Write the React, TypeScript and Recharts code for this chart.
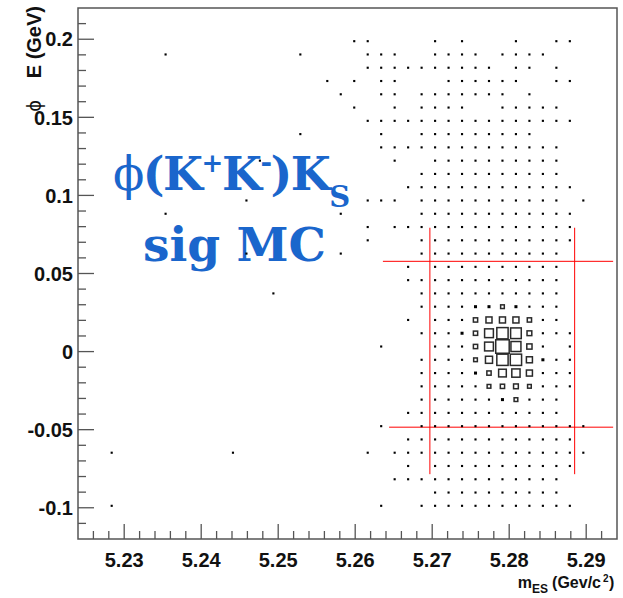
import React from "react";
import { ScatterChart, Scatter, XAxis, YAxis, ReferenceArea, ReferenceLine } from "recharts";

// plotted window and histogram binning (m_ES in GeV/c^2, ΔE in GeV)
const mesMin = 5.224;
const mesMax = 5.294;
const mesBin = 0.00175;
const deMin = -0.12;
const deMax = 0.22;
const deBin = 0.0085;

const xMajor = [5.23, 5.24, 5.25, 5.26, 5.27, 5.28, 5.29];
const xLabels = ["5.23", "5.24", "5.25", "5.26", "5.27", "5.28", "5.29"];
const yMajor = [-0.1, -0.05, 0, 0.05, 0.1, 0.15, 0.2];
const yLabels = ["-0.1", "-0.05", "0", "0.05", "0.1", "0.15", "0.2"];

// filled cells: ΔE row (counted down from the top edge) and the m_ES bins hit in it
const hitRows = [2, 3, 4, 5, 6, 7, 8, 9, 10, 11, 12, 13, 14, 15, 16, 17, 18, 19,
  20, 21, 22, 23, 24, 25, 26, 27, 28, 29, 30, 31, 32, 33, 34, 35, 36, 37];
const hitBins: number[][] = [
  [20, 21, 26, 28, 32, 35, 36],
  [6, 16, 21, 22, 23, 26, 27, 28, 29, 31, 32, 33, 34],
  [21, 22, 23, 24, 25, 26, 27, 28, 29, 30, 32, 33, 35],
  [18, 20, 22, 23, 27, 28, 29, 30, 31, 32, 35, 36],
  [19, 22, 23, 25, 26, 27, 28, 29, 30, 31, 33],
  [20, 23, 25, 26, 27, 28, 31, 32, 33, 34, 35],
  [21, 22, 23, 24, 25, 26, 27, 28, 29, 30, 31, 32, 33, 34, 35, 36],
  [16, 22, 25, 26, 27, 28, 29, 30, 31, 32, 33],
  [22, 23, 24, 25, 26, 27, 28, 29, 30, 31, 32, 33, 34, 35],
  [13, 23, 26, 27, 28, 29, 30, 31, 32, 33, 34, 35],
  [25, 26, 27, 28, 29, 30, 31, 32, 33, 34, 35],
  [24, 25, 26, 27, 28, 29, 30, 31, 32, 33, 34, 35, 36],
  [12, 21, 22, 23, 25, 26, 27, 28, 29, 30, 31, 32, 33, 34, 35, 37],
  [6, 19, 25, 26, 27, 28, 29, 30, 31, 32, 33, 34, 35, 36],
  [21, 23, 24, 25, 26, 27, 28, 29, 30, 31, 32, 33, 34, 35, 36],
  [21, 25, 26, 27, 28, 29, 30, 31, 32, 33, 34, 35, 36],
  [12, 19, 25, 26, 27, 28, 29, 30, 31, 32, 33, 34, 35],
  [24, 26, 27, 28, 29, 30, 31, 32, 33, 34, 35],
  [24, 25, 26, 27, 28, 29, 30, 31, 32, 33, 34, 35],
  [14, 25, 26, 27, 28, 29, 30, 31, 32, 33, 34, 35],
  [25, 26, 27, 28, 29, 30, 31, 32, 33, 34, 35],
  [24, 26, 27, 28, 29, 30, 31, 32, 33, 34, 35],
  [25, 26, 27, 28, 29, 30, 31, 32, 33, 34, 35, 36],
  [22, 26, 27, 28, 29, 30, 31, 32, 33, 34, 36],
  [25, 26, 27, 28, 29, 30, 31, 32, 33, 34, 35, 36],
  [25, 26, 27, 28, 29, 30, 31, 32, 33, 34, 35, 36],
  [25, 26, 27, 28, 29, 30, 31, 32, 33, 34, 35, 36],
  [25, 26, 27, 28, 29, 30, 31, 32, 33, 34, 35],
  [24, 25, 26, 27, 28, 29, 30, 31, 32, 33, 34, 35],
  [22, 25, 26, 27, 28, 29, 30, 31, 32, 33, 34, 35, 36, 37],
  [24, 25, 26, 27, 28, 29, 30, 31, 32, 33, 34, 35, 36],
  [2, 11, 21, 23, 24, 25, 26, 27, 28, 29, 30, 31, 32, 33, 34, 35, 36, 37],
  [24, 26, 27, 28, 29, 30, 31, 32, 33, 34, 35, 36],
  [23, 24, 25, 26, 27, 28, 29, 30, 31, 32, 33, 34, 35],
  [26, 27, 28, 29, 30, 31, 32, 33, 34, 35],
  [2, 22, 25, 26, 27, 28, 29, 30, 31, 32, 33, 34, 35, 36],
];

// cells of the signal peak with more than one entry: [row, bin, entries]
const peakCells: [number, number, number][] = [
  [22, 29, 2], [22, 30, 2], [22, 31, 3], [22, 32, 2],
  [23, 29, 4], [23, 30, 8], [23, 31, 8], [23, 32, 8], [23, 33, 4],
  [24, 28, 2], [24, 29, 4], [24, 30, 17], [24, 31, 28], [24, 32, 25], [24, 33, 5],
  [25, 29, 4], [25, 30, 17], [25, 31, 40], [25, 32, 22], [25, 33, 6],
  [26, 29, 3], [26, 30, 11], [26, 31, 28], [26, 32, 28], [26, 33, 8], [26, 34, 2],
  [27, 29, 2], [27, 30, 4], [27, 31, 13], [27, 32, 15], [27, 33, 8],
  [28, 30, 3], [28, 31, 4], [28, 32, 5], [28, 33, 3],
  [29, 31, 2], [29, 32, 3],
];

// signal box cuts drawn in red: [m_ES from, ΔE from, m_ES to, ΔE to]
const cutLines = [
  [5.2636, 0.0578, 5.2935, 0.0578],
  [5.2644, -0.0484, 5.2935, -0.0484],
  [5.2697, 0.0793, 5.2697, -0.0785],
  [5.2885, 0.0793, 5.2885, -0.0785],
];

const W = 623;
const H = 598;
const margin = { top: 8, right: 6, left: 8, bottom: 19 };
const yAxisW = 70;
const xAxisH = 40;
const plotW = W - margin.left - margin.right - yAxisW;
const binPx = (plotW * mesBin) / (mesMax - mesMin);
const axisColor = "#555";
const blue = "#1a66cc";
const labelFont = "'Liberation Sans', Arial, Helvetica, sans-serif";

type Cell = { x: number; y: number; n: number };

const cells: Cell[] = [];
hitRows.forEach((row, i) => {
  hitBins[i].forEach((bin) => {
    const peak = peakCells.find((c) => c[0] === row && c[1] === bin);
    cells.push({
      x: mesMin + (bin + 0.5) * mesBin,
      y: deMax - (row + 0.5) * deBin,
      n: peak ? peak[2] : 1,
    });
  });
});
const nMax = Math.max(...cells.map((c) => c.n));

const xTicks: number[] = [];
for (let i = 1; i < 35; i++) xTicks.push(Math.round((mesMin + i * 0.002) * 1000) / 1000);
const yTicks: number[] = [];
for (let i = -11; i <= 21; i++) yTicks.push(Math.round(i) / 100);

function BinBox(props: any) {
  const { cx, cy, payload } = props;
  if (cx == null || cy == null) return null;
  const s = Math.max(2, binPx * Math.sqrt(payload.n / nMax));
  if (s < 3.6) {
    return <rect x={cx - s / 2} y={cy - s / 2} width={s} height={s} fill="#000" />;
  }
  return (
    <rect x={cx - s / 2} y={cy - s / 2} width={s} height={s} fill="none" stroke="#2a2a2a" strokeWidth={1.5} />
  );
}

const renderXTick = (p: any) => {
  const v = p.payload.value;
  const i = xMajor.findIndex((m) => Math.abs(m - v) < 1e-9);
  return (
    <g>
      <line x1={p.x} x2={p.x} y1={p.y} y2={p.y - (i >= 0 ? 15 : 8)} stroke={axisColor} strokeWidth={1.3} />
      {i >= 0 && (
        <text x={p.x} y={p.y + 28} textAnchor="middle" fontFamily={labelFont} fontWeight="bold" fontSize={20} fill="#111">
          {xLabels[i]}
        </text>
      )}
    </g>
  );
};

const renderYTick = (p: any) => {
  const v = p.payload.value;
  const i = yMajor.findIndex((m) => Math.abs(m - v) < 1e-9);
  return (
    <g>
      <line x1={p.x} x2={p.x + (i >= 0 ? 16 : 8)} y1={p.y} y2={p.y} stroke={axisColor} strokeWidth={1.3} />
      {i >= 0 && (
        <text x={p.x - 5} y={p.y} dy="0.36em" textAnchor="end" fontFamily={labelFont} fontWeight="bold" fontSize={20} fill="#111">
          {yLabels[i]}
        </text>
      )}
    </g>
  );
};

export default function App() {
  return (
    <div style={{ position: "absolute", left: 0, top: 0, width: W, height: H, background: "#fff" }}>
      <svg width={W} height={H} style={{ position: "absolute", left: 0, top: 0 }}>
        <text x={113} y={190} fill={blue} fontFamily="'DejaVu Serif', serif" fontWeight="bold" fontSize={46} letterSpacing={-1.5}>
          <tspan fontWeight="normal">ϕ</tspan>
          <tspan>(K</tspan>
          <tspan fontSize={26} dy={-18}>+</tspan>
          <tspan dy={18}>K</tspan>
          <tspan fontSize={28} dy={-18}>-</tspan>
          <tspan dy={18}>)K</tspan>
          <tspan fontSize={29} dy={17}>S</tspan>
        </text>
        <text x={143} y={261} fill={blue} fontFamily="'DejaVu Serif', serif" fontWeight="bold" fontSize={47}>
          sig MC
        </text>
        <text x={601} y={588} textAnchor="end" fontFamily={labelFont} fontWeight="bold" fontSize={16} fill="#111">
          m<tspan fontSize={12} dy={5}>ES</tspan>
          <tspan dy={-5} dx={4}>(Gev/c</tspan>
        </text>
        <text x={603} y={582} fontFamily={labelFont} fontWeight="bold" fontSize={10} fill="#111">2</text>
        <text x={609} y={588} fontFamily={labelFont} fontWeight="bold" fontSize={16} fill="#111">)</text>
        <text
          transform="translate(41, 6) rotate(-90)"
          textAnchor="end"
          fontFamily={labelFont}
          fontWeight="bold"
          fontSize={20}
          fill="#111"
        >
          <tspan fontWeight="normal">ϕ</tspan>
          <tspan dx={22}>E (GeV)</tspan>
        </text>
      </svg>
      <div style={{ position: "absolute", left: 0, top: 0 }}>
        <ScatterChart width={W} height={H} margin={margin}>
          <XAxis
            type="number"
            dataKey="x"
            domain={[mesMin, mesMax]}
            ticks={xTicks}
            interval={0}
            height={xAxisH}
            axisLine={false}
            tickLine={false}
            tickSize={0}
            tickMargin={0}
            tick={renderXTick}
            allowDataOverflow
          />
          <YAxis
            type="number"
            dataKey="y"
            domain={[deMin, deMax]}
            ticks={yTicks}
            interval={0}
            width={yAxisW}
            axisLine={false}
            tickLine={false}
            tickSize={0}
            tickMargin={0}
            tick={renderYTick}
            allowDataOverflow
          />
          <ReferenceArea x1={mesMin} x2={mesMax} y1={deMin} y2={deMax} fill="none" stroke={axisColor} strokeWidth={1.5} />
          {cutLines.map((l, i) => (
            <ReferenceLine
              key={i}
              segment={[{ x: l[0], y: l[1] }, { x: l[2], y: l[3] }]}
              stroke="#f00"
              strokeWidth={1}
            />
          ))}
          <Scatter data={cells} shape={BinBox} isAnimationActive={false} />
        </ScatterChart>
      </div>
    </div>
  );
}
